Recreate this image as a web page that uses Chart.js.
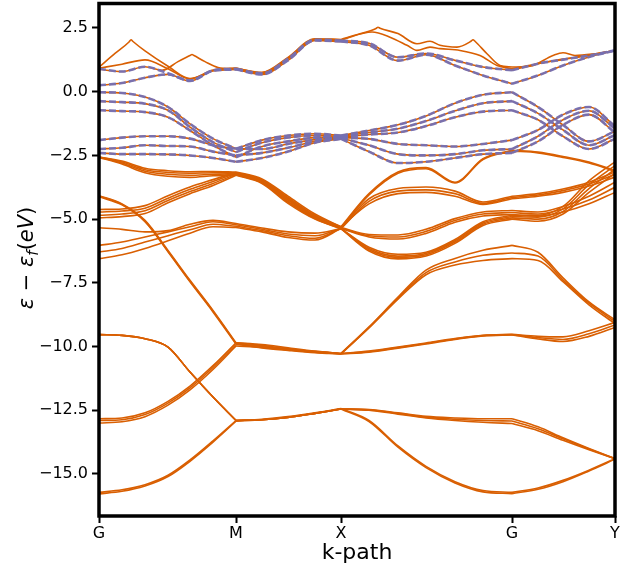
<!DOCTYPE html>
<html>
<head>
<meta charset="utf-8">
<title>Band structure</title>
<script src="https://cdn.jsdelivr.net/npm/chart.js@4.4.1/dist/chart.umd.min.js"></script>
<style>
  html, body { margin: 0; padding: 0; background: #fff; }
  #bands { display: block; }
</style>
</head>
<body>
<canvas id="bands" width="620" height="577"></canvas>
<script>
// k-path coordinate of every sample and the high-symmetry points
const kPath = [0, 0.23, 0.46, 0.69, 0.91, 1.14, 1.37, 1.63, 1.89, 2.16, 2.42, 2.70, 2.99, 3.27, 3.56, 3.84, 4.13, 4.39, 4.64, 4.90, 5.16];
const kTicks = [0, 1.37, 2.42, 4.13, 5.16];
const kLabels = ['G', 'M', 'X', 'G', 'Y'];
const energyTicks = [-15, -12.5, -10, -7.5, -5, -2.5, 0, 2.5];

// deep bands (eV), one value per kPath sample
const L1a = [-15.72, -15.62, -15.42, -15.05, -14.45, -13.7, -12.9, -12.85, -12.75, -12.6, -12.43, -12.9, -13.9, -14.7, -15.3, -15.65, -15.72, -15.55, -15.25, -14.85, -14.4];
const L1b = [-15.78, -15.68, -15.47, -15.1, -14.5, -13.75, -12.93, -12.87, -12.77, -12.62, -12.45, -12.94, -13.95, -14.75, -15.35, -15.7, -15.77, -15.6, -15.3, -14.88, -14.42];
const L2a = [-9.53, -9.56, -9.69, -10.02, -11.0, -11.98, -12.9, -12.87, -12.78, -12.62, -12.45, -12.47, -12.6, -12.74, -12.8, -12.83, -12.83, -13.15, -13.58, -14.0, -14.4];
const L2b = [-9.53, -9.56, -9.69, -10.02, -11.0, -11.98, -12.9, -12.87, -12.78, -12.62, -12.45, -12.48, -12.62, -12.77, -12.85, -12.9, -12.92, -13.22, -13.62, -14.02, -14.4];
const L2c = [-9.53, -9.56, -9.69, -10.02, -11.0, -11.98, -12.9, -12.87, -12.78, -12.62, -12.45, -12.5, -12.65, -12.8, -12.9, -12.97, -13.02, -13.3, -13.68, -14.05, -14.4];
const L3a = [-12.83, -12.8, -12.6, -12.15, -11.55, -10.75, -9.85, -9.92, -10.05, -10.18, -10.27, -10.18, -10.02, -9.86, -9.69, -9.56, -9.52, -9.6, -9.62, -9.38, -9.05];
const L3b = [-12.9, -12.87, -12.67, -12.22, -11.62, -10.82, -9.92, -9.97, -10.1, -10.2, -10.28, -10.2, -10.04, -9.88, -9.7, -9.57, -9.53, -9.65, -9.72, -9.5, -9.15];
const L3c = [-13.0, -12.95, -12.75, -12.3, -11.7, -10.9, -9.98, -10.03, -10.13, -10.22, -10.29, -10.22, -10.06, -9.9, -9.72, -9.58, -9.54, -9.7, -9.8, -9.6, -9.25];
const U0a = [-4.08, -4.4, -5.05, -6.23, -7.4, -8.58, -9.85, -9.95, -10.1, -10.2, -10.27, -9.23, -8.06, -7.0, -6.54, -6.22, -6.03, -6.3, -7.3, -8.25, -8.95];
const U0b = [-4.1, -4.42, -5.08, -6.26, -7.43, -8.61, -9.88, -10.0, -10.12, -10.22, -10.28, -9.25, -8.1, -7.1, -6.68, -6.42, -6.33, -6.45, -7.38, -8.3, -9.02];
const U0c = [-4.12, -4.44, -5.1, -6.28, -7.46, -8.64, -9.9, -10.05, -10.15, -10.24, -10.29, -9.27, -8.14, -7.18, -6.8, -6.62, -6.55, -6.62, -7.45, -8.36, -9.1];

// middle bands, G -> M -> X part (first 11 samples)
const M1a = [-4.62, -4.6, -4.47, -4.08, -3.74, -3.45, -3.17, -3.45, -4.15, -4.85, -5.3];
const M1b = [-4.72, -4.68, -4.57, -4.18, -3.83, -3.52, -3.2, -3.5, -4.22, -4.9, -5.33];
const M1c = [-4.85, -4.8, -4.67, -4.27, -3.92, -3.6, -3.24, -3.55, -4.3, -4.95, -5.35];
const M1d = [-4.95, -4.9, -4.78, -4.36, -4.0, -3.68, -3.28, -3.6, -4.38, -5.0, -5.37];
const Na = [-2.56, -2.72, -3.0, -3.1, -3.14, -3.13, -3.15, -3.42, -4.1, -4.8, -5.3];
const Nb = [-2.56, -2.76, -3.06, -3.17, -3.2, -3.18, -3.18, -3.47, -4.18, -4.88, -5.33];
const Nc = [-2.57, -2.8, -3.12, -3.24, -3.28, -3.24, -3.22, -3.52, -4.25, -4.93, -5.35];
const Nd = [-2.58, -2.84, -3.18, -3.32, -3.36, -3.3, -3.26, -3.57, -4.33, -4.98, -5.37];
const M2a = [-5.34, -5.4, -5.5, -5.45, -5.2, -5.05, -5.17, -5.35, -5.5, -5.55, -5.37];
const M2b = [-6.03, -5.9, -5.7, -5.5, -5.3, -5.1, -5.22, -5.4, -5.58, -5.65, -5.37];
const M2c = [-6.29, -6.15, -5.9, -5.65, -5.42, -5.2, -5.28, -5.45, -5.65, -5.75, -5.37];
const M2d = [-6.55, -6.4, -6.15, -5.85, -5.55, -5.3, -5.33, -5.5, -5.72, -5.82, -5.37];

// middle bands, X -> G -> Y part (last 11 samples)
const T1 = [-5.35, -4.0, -3.15, -2.98, -3.55, -2.63, -2.3, -2.37, -2.54, -2.76, -3.09];
const T2 = [-5.35, -4.05, -3.2, -3.02, -3.58, -2.66, -2.33, -2.4, -2.58, -2.8, -3.12];
const C1 = [-5.35, -4.2, -3.8, -3.74, -3.9, -4.33, -4.1, -4.0, -3.82, -3.55, -3.15];
const C2 = [-5.35, -4.3, -3.9, -3.85, -4.0, -4.38, -4.15, -4.05, -3.88, -3.62, -3.25];
const C3 = [-5.35, -4.4, -4.0, -3.95, -4.1, -4.42, -4.2, -4.1, -3.95, -3.7, -3.35];
const D1 = [-5.35, -5.6, -5.62, -5.4, -4.98, -4.72, -4.66, -4.72, -4.5, -4.1, -3.55];
const D2 = [-5.35, -5.65, -5.7, -5.48, -5.05, -4.8, -4.74, -4.8, -4.6, -4.25, -3.75];
const D3 = [-5.35, -5.7, -5.78, -5.56, -5.12, -4.88, -4.82, -4.88, -4.72, -4.4, -3.95];
const E1 = [-5.35, -6.1, -6.38, -6.3, -5.8, -5.1, -4.85, -4.85, -4.5, -3.5, -2.75];
const E2 = [-5.35, -6.15, -6.45, -6.35, -5.85, -5.15, -4.9, -4.92, -4.6, -3.65, -2.9];
const E3 = [-5.35, -6.2, -6.5, -6.4, -5.9, -5.2, -4.95, -5.0, -4.7, -3.8, -3.05];
const E4 = [-5.35, -6.25, -6.56, -6.45, -5.95, -5.25, -5.0, -5.08, -4.8, -3.95, -3.2];

// top valence bands, same for both spins
const P1 = [-0.02, -0.05, -0.21, -0.6, -1.26, -1.84, -2.24, -1.9, -1.72, -1.65, -1.72, -1.52, -1.3, -0.95, -0.45, -0.12, -0.02, -0.6, -1.3, -1.95, -1.55];
const P2 = [-0.37, -0.41, -0.47, -0.73, -1.39, -1.98, -2.37, -2.0, -1.8, -1.72, -1.75, -1.6, -1.45, -1.15, -0.75, -0.45, -0.37, -0.85, -1.5, -2.1, -1.7];
const P3 = [-0.73, -0.76, -0.8, -1.0, -1.52, -2.1, -2.57, -2.15, -1.95, -1.8, -1.78, -1.68, -1.6, -1.35, -1.0, -0.78, -0.73, -1.1, -1.75, -2.25, -1.85];
const P4 = [-1.9, -1.8, -1.75, -1.75, -1.84, -2.1, -2.24, -2.25, -2.05, -1.88, -1.8, -1.85, -2.05, -2.1, -2.15, -2.05, -1.9, -1.5, -0.9, -0.6, -1.35];
const P5 = [-2.25, -2.2, -2.1, -2.13, -2.15, -2.35, -2.5, -2.4, -2.2, -1.95, -1.82, -2.1, -2.45, -2.5, -2.45, -2.3, -2.25, -1.75, -1.1, -0.75, -1.45];
const P6 = [-2.4, -2.45, -2.45, -2.46, -2.5, -2.6, -2.75, -2.6, -2.35, -2.0, -1.85, -2.35, -2.8, -2.75, -2.6, -2.45, -2.4, -1.95, -1.3, -0.9, -1.6];

// lowest conduction bands of the minority spin
const CA = [0.9, 0.79, 0.98, 0.72, 0.44, 0.84, 0.9, 0.72, 1.3, 2.04, 2.01, 1.9, 1.35, 1.5, 1.23, 0.97, 0.84, 1.1, 1.26, 1.42, 1.62];
const CB = [0.25, 0.34, 0.55, 0.68, 0.42, 0.82, 0.87, 0.68, 1.23, 2.01, 1.97, 1.82, 1.22, 1.45, 1.03, 0.64, 0.31, 0.64, 1.03, 1.36, 1.62];

// majority-spin conduction bands, sampled on their own k points
const kUp1 = [0, 0.16, 0.30, 0.32, 0.34, 0.46, 0.69, 0.91, 1.14, 1.37, 1.63, 1.89, 2.16, 2.42, 2.61, 2.77, 2.79, 2.81, 2.99, 3.18, 3.31, 3.41, 3.58, 3.72, 3.74, 3.76, 3.88, 4.01, 4.13, 4.31, 4.54, 4.64, 4.76, 4.94, 5.16];
const up1 = [0.96, 1.5, 1.95, 2.04, 1.97, 1.6, 1.0, 0.52, 0.82, 0.92, 0.76, 1.35, 2.08, 2.05, 2.27, 2.48, 2.53, 2.49, 2.28, 1.88, 1.98, 1.82, 1.75, 1.98, 2.04, 1.98, 1.49, 1.03, 0.97, 1.0, 1.42, 1.53, 1.42, 1.48, 1.62];
const kUp2 = [0, 0.23, 0.46, 0.69, 0.91, 1.14, 1.37, 1.63, 1.89, 2.16, 2.42, 2.73, 2.91, 3.08, 3.18, 3.31, 3.41, 3.61, 3.81, 3.98, 4.13, 4.39, 4.64, 4.90, 5.16];
const up2 = [0.92, 1.08, 1.25, 0.9, 0.5, 0.85, 0.93, 0.74, 1.32, 2.06, 2.03, 2.34, 2.14, 1.82, 1.62, 1.75, 1.69, 1.62, 1.42, 1.03, 0.9, 1.1, 1.28, 1.44, 1.62];
const kUp3 = [0, 0.23, 0.46, 0.63, 0.79, 0.91, 0.93, 0.95, 1.06, 1.19, 1.37, 1.63, 1.89, 2.16, 2.42, 2.70, 2.99, 3.27, 3.56, 3.84, 4.13, 4.39, 4.64, 4.90, 5.16];
const up3 = [0.88, 0.79, 0.98, 0.84, 1.18, 1.42, 1.46, 1.42, 1.18, 0.95, 0.9, 0.72, 1.3, 2.04, 2.01, 1.9, 1.35, 1.5, 1.23, 0.97, 0.84, 1.1, 1.26, 1.42, 1.62];

const ORANGE = '#d95f02';
const PURPLE = 'rgba(117, 112, 179, 0.95)';

const midLeft = [M1a, M1b, M1c, M1d, Na, Nb, Nc, Nd, M2a, M2b, M2c, M2d];
const midRight = [T1, T2, C1, C2, C3, D1, D2, D3, E1, E2, E3, E4];
const valence = [P1, P2, P3, P4, P5, P6];

// [k, energy] pairs for each spin channel
const spinUp = [
  ...[L1a, L1b, L2a, L2b, L2c, L3a, L3b, L3c, U0a, U0b, U0c].map(e => [kPath, e]),
  ...midLeft.map((left, i) => [kPath, left.concat(midRight[i].slice(1))]),
  ...valence.map(e => [kPath, e]),
  [kPath, CB],
  [kUp1, up1], [kUp2, up2], [kUp3, up3]
];
const spinDown = [...valence, CA, CB].map(e => [kPath, e]);

// one dataset per path segment so the bands break at the labelled points
function segments(ks, es, style) {
  const out = [];
  for (let s = 0; s < kTicks.length - 1; s++) {
    const pts = [];
    ks.forEach((k, i) => {
      if (k >= kTicks[s] - 1e-6 && k <= kTicks[s + 1] + 1e-6) pts.push({ x: k, y: es[i] });
    });
    out.push(Object.assign({ data: pts }, style));
  }
  return out;
}

const upStyle = { borderColor: ORANGE, borderWidth: 1.6, order: 2 };
const downStyle = { borderColor: PURPLE, borderWidth: 2.6, borderDash: [7, 3], order: 1 };

const datasets = [];
spinDown.forEach(([ks, es]) => datasets.push(...segments(ks, es, downStyle)));
spinUp.forEach(([ks, es]) => datasets.push(...segments(ks, es, upStyle)));

// black box around the plot
const frame = {
  id: 'frame',
  afterDatasetsDraw(chart) {
    const { ctx, chartArea: a } = chart;
    ctx.save();
    ctx.strokeStyle = '#000';
    ctx.lineWidth = 3.5;
    ctx.strokeRect(a.left, a.top, a.right - a.left, a.bottom - a.top);
    ctx.restore();
  }
};

// y label with the subscript, written sideways
const energyLabel = {
  id: 'energyLabel',
  afterDraw(chart) {
    const ctx = chart.ctx;
    const size = 21;
    const ital = `italic ${size}px "DejaVu Sans"`;
    const reg = `${size}px "DejaVu Sans"`;
    const parts = [
      { t: 'ε', f: ital, dy: 0 },
      { t: ' − ', f: reg, dy: 0 },
      { t: 'ε', f: ital, dy: 0 },
      { t: 'f', f: `italic ${Math.round(size * 0.7)}px "DejaVu Sans"`, dy: size * 0.22 },
      { t: '(', f: reg, dy: 0 },
      { t: 'eV', f: ital, dy: 0 },
      { t: ')', f: reg, dy: 0 }
    ];
    ctx.save();
    let total = 0;
    parts.forEach(p => { ctx.font = p.f; p.w = ctx.measureText(p.t).width; total += p.w; });
    ctx.translate(27, 258);
    ctx.rotate(-Math.PI / 2);
    ctx.fillStyle = '#000';
    ctx.textBaseline = 'alphabetic';
    let x = -total / 2;
    parts.forEach(p => {
      ctx.font = p.f;
      ctx.fillText(p.t, x, size * 0.3 + p.dy);
      x += p.w;
    });
    ctx.restore();
  }
};

new Chart(document.getElementById('bands'), {
  type: 'line',
  data: { datasets },
  options: {
    responsive: false,
    animation: false,
    devicePixelRatio: 1,
    events: [],
    layout: { padding: { top: 3.5, right: 5, left: 0, bottom: 0 } },
    elements: {
      point: { radius: 0 },
      line: { cubicInterpolationMode: 'monotone', fill: false, borderCapStyle: 'butt' }
    },
    plugins: { legend: { display: false }, tooltip: { enabled: false } },
    scales: {
      x: {
        type: 'linear',
        min: 0,
        max: 5.16,
        afterBuildTicks: scale => { scale.ticks = kTicks.map(v => ({ value: v })); },
        afterFit: scale => {
          scale.height = 61;
          scale.paddingLeft = 0;
          scale.paddingRight = 0;
        },
        grid: { drawOnChartArea: false, drawTicks: true, tickLength: 7, tickWidth: 2, tickColor: '#000' },
        border: { display: false },
        ticks: {
          autoSkip: false,
          maxRotation: 0,
          padding: 1,
          color: '#000',
          font: { family: 'DejaVu Sans', size: 16 },
          callback: (value, index) => kLabels[index]
        },
        title: {
          display: true,
          text: 'k-path',
          color: '#000',
          font: { family: 'DejaVu Sans', size: 22 },
          padding: { top: 0, bottom: 11 }
        }
      },
      y: {
        type: 'linear',
        min: -16.648,
        max: 3.461,
        afterBuildTicks: scale => { scale.ticks = energyTicks.map(v => ({ value: v })); },
        afterFit: scale => {
          scale.width = 99;
          scale.paddingTop = 0;
          scale.paddingBottom = 0;
        },
        grid: { drawOnChartArea: false, drawTicks: true, tickLength: 7, tickWidth: 2, tickColor: '#000' },
        border: { display: false },
        ticks: {
          padding: 4,
          color: '#000',
          font: { family: 'DejaVu Sans', size: 16 },
          callback: value => value.toFixed(1).replace('-', '−')
        }
      }
    }
  },
  plugins: [frame, energyLabel]
});
</script>
</body>
</html>
